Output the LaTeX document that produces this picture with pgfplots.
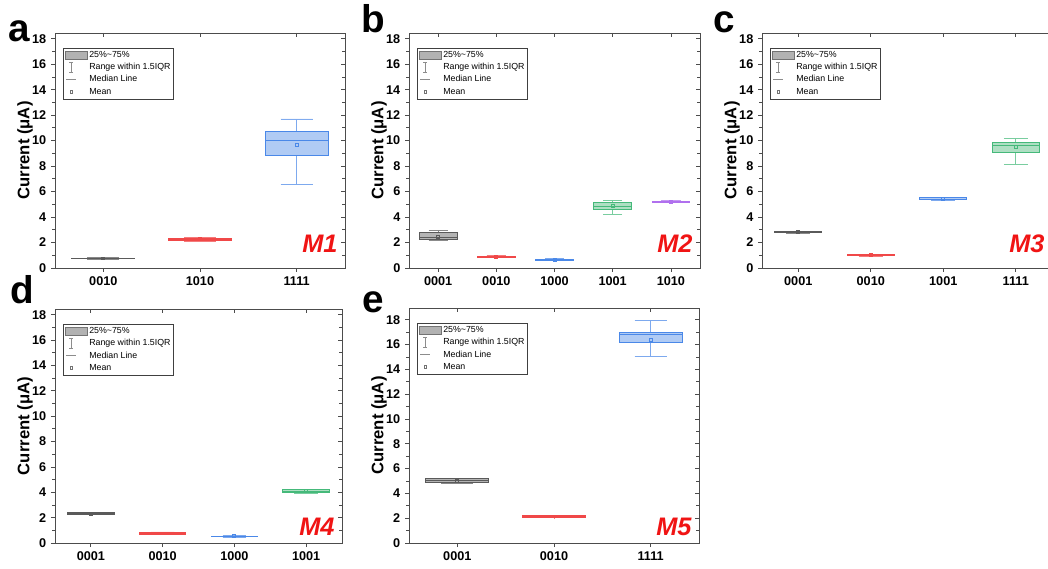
\documentclass[border=0pt]{standalone}
\usepackage{fontspec}
\setmainfont{Liberation Sans}
\usepackage{pgfplots}
\usepackage{pgfplotstable}
\pgfplotsset{compat=1.18}
\usepgfplotslibrary{statistics}

\definecolor{kE}{HTML}{5A5A5A}\definecolor{kF}{HTML}{B4B4B4}
\definecolor{rE}{HTML}{F04848}\definecolor{rF}{HTML}{F7A8A8}
\definecolor{bE}{HTML}{4A88E8}\definecolor{bF}{HTML}{B0CBF4}
\definecolor{gE}{HTML}{45B97A}\definecolor{gF}{HTML}{AEDFC3}
\definecolor{pE}{HTML}{B070EE}\definecolor{pF}{HTML}{DCC2F8}
\definecolor{mred}{HTML}{F01414}

% lower whisker, quartiles, median, upper whisker, mean (uA)
\pgfplotstableread{
lw q1 med q3 uw mean
0.70 0.72 0.74 0.77 0.80 0.75
2.10 2.16 2.22 2.32 2.40 2.25
6.59 8.85 10.00 10.72 11.70 9.63
}\tabA
\pgfplotstableread{
lw q1 med q3 uw mean
2.20 2.22 2.40 2.78 2.91 2.45
0.83 0.85 0.88 0.92 0.95 0.88
0.62 0.63 0.66 0.70 0.72 0.66
4.23 4.60 4.80 5.12 5.33 4.85
5.15 5.17 5.20 5.25 5.27 5.21
}\tabB
\pgfplotstableread{
lw q1 med q3 uw mean
2.74 2.76 2.80 2.85 2.86 2.80
0.94 0.96 1.00 1.06 1.08 1.00
5.33 5.35 5.40 5.50 5.52 5.42
8.14 9.10 9.63 9.84 10.18 9.47
}\tabC
\pgfplotstableread{
lw q1 med q3 uw mean
2.22 2.25 2.31 2.40 2.43 2.32
0.66 0.68 0.73 0.85 0.87 0.75
0.47 0.48 0.52 0.55 0.57 0.52
3.93 3.96 4.04 4.20 4.23 4.08
}\tabD
\pgfplotstableread{
lw q1 med q3 uw mean
4.82 4.85 5.03 5.20 5.24 5.02
2.03 2.05 2.10 2.20 2.22 2.14
15.05 16.20 16.80 16.95 17.98 16.37
}\tabE

% table, row, position, colour prefix
\newcommand{\bx}[4]{%
  \pgfplotstablegetelem{#2}{lw}\of#1\let\vlw\pgfplotsretval
  \pgfplotstablegetelem{#2}{q1}\of#1\let\vqa\pgfplotsretval
  \pgfplotstablegetelem{#2}{med}\of#1\let\vmed\pgfplotsretval
  \pgfplotstablegetelem{#2}{q3}\of#1\let\vqb\pgfplotsretval
  \pgfplotstablegetelem{#2}{uw}\of#1\let\vuw\pgfplotsretval
  \pgfplotstablegetelem{#2}{mean}\of#1\let\vmean\pgfplotsretval
  \edef\doplot{\noexpand\addplot[draw=#4E, fill=#4F, line width=0.7pt,
    boxplot prepared={draw position=#3, lower whisker=\vlw, lower quartile=\vqa,
      median=\vmed, upper quartile=\vqb, upper whisker=\vuw, average=\vmean}]
    coordinates {};}%
  \doplot}

\newcommand{\leg}{%
  \addlegendimage{legend image code/.code={\draw[draw=black!55,fill=black!30] (0pt,-3.3pt) rectangle (17pt,3.3pt);}}
  \addlegendentry{25\%\textasciitilde 75\%}
  \addlegendimage{legend image code/.code={\draw[black!45,line width=0.5pt] (4.5pt,-3.5pt)--(4.5pt,3.5pt) (3pt,-3.5pt)--(6pt,-3.5pt) (3pt,3.5pt)--(6pt,3.5pt);}}
  \addlegendentry{Range within 1.5IQR}
  \addlegendimage{legend image code/.code={\draw[black!45,line width=0.6pt] (1pt,0pt)--(8.5pt,0pt);}}
  \addlegendentry{Median Line}
  \addlegendimage{legend image code/.code={\draw[black!55,line width=0.4pt] (3.7pt,-0.9pt) rectangle (5.5pt,0.9pt);}}
  \addlegendentry{Mean}}

\newcommand{\mlab}[2]{\node[anchor=base east, inner sep=0pt, text=mred,
  font=\bfseries\itshape\fontsize{19}{19}\selectfont] at (rel axis cs:0.975,#2) {#1};}

\pgfplotsset{
  panel/.style={scale only axis, anchor=north west,
    ymin=0, ymax=18.45, xmin=0.5,
    ytick={0,2,...,18}, minor y tick num=1,
    axis line style={black!70, line width=0.6pt},
    tick style={black!70, line width=0.6pt},
    major tick length=3pt, minor tick length=2pt,
    boxplot/draw direction=y,
    boxplot/box extend=0.65, boxplot/whisker extend=0.33,
    boxplot/every whisker/.style={draw opacity=0.7},
    boxplot/every average/.style={/tikz/mark=square,/tikz/mark size=1.1pt,/tikz/line width=0.5pt},
    clip=false},
  lowerax/.style={panel, xtick pos=left, ytick pos=left, tick align=outside,
    /pgf/number format/assume math mode=true,
    tick label style={font=\bfseries\fontsize{9.5}{11}\selectfont},
    every axis y label/.style={at={(rel axis cs:0,0.5)}, rotate=90, anchor=center,
      yshift=22.5pt, font=\bfseries\fontsize{12.5}{14}\selectfont},
    ylabel={Current (μA)},
    legend style={at={(0,1)}, anchor=north west, xshift=6pt, yshift=-11pt,
      font=\fontsize{6.6}{7.5}\selectfont, draw=black!75, line width=0.5pt,
      inner sep=1pt, row sep=0.2pt,
      nodes={text height=5.3pt, text depth=1.6pt, inner sep=1pt}},
    legend cell align=left},
  upperax/.style={panel, xtick pos=right, ytick pos=right, tick align=inside,
    xticklabel={\mbox{}}, yticklabel={\mbox{}}},
}

\begin{document}
\begin{tikzpicture}
\path[use as bounding box] (0,0) rectangle (786pt,426pt);

% a
\begin{axis}[lowerax, at={(41.25pt,401.25pt)}, width=217.5pt, height=176.25pt,
  xmax=3.5, xtick={1,2,3}, xticklabels={0010,1010,1111}]
\leg
\bx{\tabA}{0}{1}{k}
\bx{\tabA}{1}{2}{r}
\bx{\tabA}{2}{3}{b}
\mlab{M1}{0.064}
\end{axis}
\begin{axis}[upperax, at={(41.25pt,401.25pt)}, width=217.5pt, height=176.25pt,
  xmax=3.5, xtick={1,2,3}]
\end{axis}

% b
\begin{axis}[lowerax, at={(306.75pt,401.25pt)}, width=218.25pt, height=176.25pt,
  xmax=5.5, xtick={1,2,3,4,5}, xticklabels={0001,0010,1000,1001,1010}]
\leg
\bx{\tabB}{0}{1}{k}
\bx{\tabB}{1}{2}{r}
\bx{\tabB}{2}{3}{b}
\bx{\tabB}{3}{4}{g}
\bx{\tabB}{4}{5}{p}
\mlab{M2}{0.064}
\end{axis}
\begin{axis}[upperax, at={(306.75pt,401.25pt)}, width=218.25pt, height=176.25pt,
  xmax=5.5, xtick={1,2,3,4,5}]
\end{axis}

% c
\begin{axis}[lowerax, at={(571.5pt,401.25pt)}, width=217.5pt, height=176.25pt,
  xmax=4.5, xtick={1,2,3,4}, xticklabels={0001,0010,1001,1111}]
\leg
\bx{\tabC}{0}{1}{k}
\bx{\tabC}{1}{2}{r}
\bx{\tabC}{2}{3}{b}
\bx{\tabC}{3}{4}{g}
\mlab{M3}{0.064}
\end{axis}
\begin{axis}[upperax, at={(571.5pt,401.25pt)}, width=217.5pt, height=176.25pt,
  xmax=4.5, xtick={1,2,3,4}]
\end{axis}

% d
\begin{axis}[lowerax, at={(41.25pt,194.25pt)}, width=215.25pt, height=175.5pt,
  xmax=4.5, xtick={1,2,3,4}, xticklabels={0001,0010,1000,1001}]
\leg
\bx{\tabD}{0}{1}{k}
\bx{\tabD}{1}{2}{r}
\bx{\tabD}{2}{3}{b}
\bx{\tabD}{3}{4}{g}
\mlab{M4}{0.033}
\end{axis}
\begin{axis}[upperax, at={(41.25pt,194.25pt)}, width=215.25pt, height=175.5pt,
  xmax=4.5, xtick={1,2,3,4}]
\end{axis}

% e
\begin{axis}[lowerax, at={(306.75pt,195pt)}, width=217.5pt, height=176.25pt,
  ymax=18.95, xmax=3.5, xtick={1,2,3}, xticklabels={0001,0010,1111}]
\leg
\bx{\tabE}{0}{1}{k}
\bx{\tabE}{1}{2}{r}
\bx{\tabE}{2}{3}{b}
\mlab{M5}{0.033}
\end{axis}
\begin{axis}[upperax, at={(306.75pt,195pt)}, width=217.5pt, height=176.25pt,
  ymax=18.95, xmax=3.5, xtick={1,2,3}]
\end{axis}

% panel letters
\begin{scope}[every node/.style={anchor=base west, inner sep=0pt,
    font=\bfseries\fontsize{29}{29}\selectfont}]
\node at (6.5pt,394.5pt) {a};
\node at (271pt,401.25pt) {b};
\node at (535pt,401.25pt) {c};
\node at (7.5pt,198pt) {d};
\node at (272pt,192pt) {e};
\end{scope}
\end{tikzpicture}
\end{document}
